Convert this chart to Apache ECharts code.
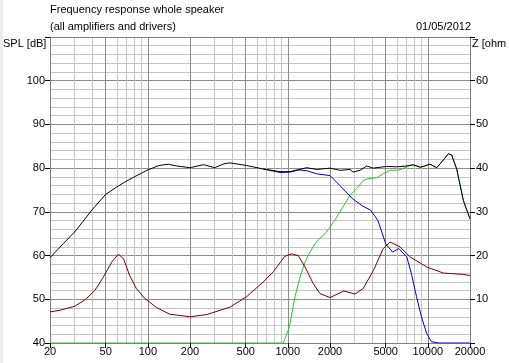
<!DOCTYPE html>
<html>
<head>
<meta charset="utf-8">
<script src="https://cdn.jsdelivr.net/npm/echarts@6/dist/echarts.min.js"></script>
<style>html,body{margin:0;padding:0;background:#fff}#c{width:509px;height:363px}</style>
</head>
<body>
<div id="c"></div>
<script>
// ---- Data ----
const xMajorTicks = [20, 50, 100, 200, 500, 1000, 2000, 5000, 10000, 20000];
const xMinorGrid = [30, 40, 60, 70, 80, 90, 300, 400, 600, 700, 800, 900, 3000, 4000, 6000, 7000, 8000, 9000];

// Total SPL (black), dB
const totalFreq = [20, 25, 30, 36, 40, 50, 60, 70, 80, 100, 120, 140, 160, 200, 250, 300, 350, 386, 508, 668, 879, 1036, 1364, 1607, 2000, 2357, 2779, 2919, 3276, 3658, 4057, 5082, 5988, 7064, 7874, 8790, 10357, 11563, 12560, 13996, 14792, 16075, 17924, 20000];
const totalSPL  = [59.5, 62.8, 65.4, 68.6, 70.5, 74.0, 75.7, 77.0, 78.0, 79.6, 80.6, 80.9, 80.5, 80.1, 80.8, 80.1, 81.0, 81.2, 80.6, 79.8, 79.2, 79.2, 80.1, 79.7, 80.0, 79.5, 79.7, 79.1, 79.5, 80.5, 80.0, 80.4, 80.3, 80.5, 80.8, 80.2, 80.9, 80.1, 81.4, 83.3, 83.0, 79.8, 72.6, 68.4];

// Woofer SPL (blue), dB — hidden under the total curve below ~700 Hz
const wooferFreq = [668, 879, 1036, 1200, 1364, 1607, 2000, 2357, 2900, 3430, 3900, 4400, 5000, 5600, 6200, 7070, 7620, 8300, 9000, 9800, 10600, 12000, 20000];
const wooferSPL  = [79.8, 79.0, 79.1, 79.6, 79.4, 78.7, 78.3, 76.0, 73.0, 71.3, 70.4, 68.0, 62.7, 60.8, 61.6, 59.7, 55.9, 50.6, 46.0, 42.2, 40.3, 40.0, 40.0];

// Tweeter SPL (green), dB
const tweeterFreq = [20, 928, 1007, 1036, 1125, 1221, 1326, 1439, 1563, 1697, 1842, 2000, 2233, 2559, 2779, 3104, 3458, 3756, 4312, 4804, 5366, 6325, 7456, 8320, 9038, 10357, 11563, 12560, 13996, 14792, 16075, 17924, 20000];
const tweeterSPL  = [40.0, 40.0, 43.0, 44.5, 50.6, 55.1, 58.5, 60.8, 62.7, 64.0, 65.0, 66.5, 68.8, 71.9, 73.8, 75.3, 77.2, 77.6, 77.8, 78.7, 79.5, 79.6, 80.6, 80.5, 80.2, 80.9, 80.1, 81.4, 83.3, 83.0, 79.8, 72.6, 68.4];

// Impedance (dark red), ohm
const impFreq = [20, 23.6, 30, 36, 42, 47.5, 55.2, 61.5, 67, 74, 82.6, 95, 115.6, 143, 200, 263, 386, 508, 668, 787, 950, 1058, 1187, 1326, 1517, 1697, 2000, 2510, 3020, 3458, 4100, 4804, 5366, 6325, 7456, 9800, 12900, 17900, 20000];
const impOhm  = [7.1, 7.5, 8.4, 10.0, 12.1, 14.8, 18.5, 20.3, 19.3, 15.5, 12.5, 10.2, 8.1, 6.6, 6.0, 6.5, 8.2, 10.6, 14.0, 16.3, 19.8, 20.4, 20.0, 17.4, 13.6, 11.3, 10.4, 11.9, 11.2, 12.5, 16.7, 21.6, 23.1, 22.0, 19.7, 17.4, 16.0, 15.7, 15.4];

const splTicks = [40, 110, 10];
const zTicks = [0, 70, 10];

function pairs(xs, ys) { return xs.map((x, i) => [x, ys[i]]); }

const FONT = 'Liberation Sans';
const chart = echarts.init(document.getElementById('c'), null, {renderer: 'canvas'});
chart.setOption({
  animation: false,
  backgroundColor: '#ffffff',
  textStyle: {fontFamily: FONT},
  grid: {left: 50, right: 39, top: 37, bottom: 20, containLabel: false},
  graphic: [
    {type: 'rect', left: 0, top: 0, shape: {width: 3, height: 363}, style: {fill: '#ececec'}, silent: true},
    {type: 'text', left: 50, top: 4, style: {text: 'Frequency response whole speaker', font: '11px "Liberation Sans"', fill: '#000'}},
    {type: 'text', left: 50, top: 21, style: {text: '(all amplifiers and drivers)', font: '11px "Liberation Sans"', fill: '#000'}},
    {type: 'text', right: 38, top: 21, style: {text: '01/05/2012', font: '11px "Liberation Sans"', fill: '#000'}},
    {type: 'text', left: 3, top: 38, style: {text: 'SPL [dB]', font: '11px "Liberation Sans"', fill: '#000'}},
    {type: 'text', left: 472, top: 38, style: {text: 'Z [ohm', font: '11px "Liberation Sans"', fill: '#000'}}
  ],
  xAxis: [
    {
      type: 'log', logBase: 10, min: 20, max: 20000, position: 'bottom',
      axisLine: {show: true, lineStyle: {color: '#808080', width: 1}},
      axisTick: {show: true, length: 5, customValues: xMajorTicks, lineStyle: {color: '#000'}},
      axisLabel: {show: true, customValues: xMajorTicks, color: '#000', fontSize: 11, fontFamily: FONT, margin: 3,
                  formatter: v => String(Math.round(v))},
      splitLine: {show: true, lineStyle: {color: '#8c8c8c', width: 1}}
    },
    {
      type: 'log', logBase: 10, min: 20, max: 20000, position: 'top',
      axisLine: {show: true, lineStyle: {color: '#808080', width: 1}},
      axisTick: {show: false, customValues: xMinorGrid},
      axisLabel: {show: false},
      splitLine: {show: true, lineStyle: {color: '#c4c4c4', width: 1}}
    }
  ],
  yAxis: [
    {
      type: 'value', min: splTicks[0], max: splTicks[1], interval: splTicks[2], position: 'left',
      axisLine: {show: true, lineStyle: {color: '#808080'}},
      axisTick: {show: true, length: 5, lineStyle: {color: '#000'}},
      axisLabel: {color: '#000', fontSize: 11, fontFamily: FONT, margin: 5,
                  formatter: v => (v === splTicks[1] ? '' : String(v))},
      splitLine: {show: true, lineStyle: {color: '#8c8c8c'}},
      minorTick: {show: false, splitNumber: 5},
      minorSplitLine: {show: true, lineStyle: {color: '#c4c4c4'}}
    },
    {
      type: 'value', min: zTicks[0], max: zTicks[1], interval: zTicks[2], position: 'right',
      axisLine: {show: true, lineStyle: {color: '#808080'}},
      axisTick: {show: true, length: 5, lineStyle: {color: '#000'}},
      axisLabel: {color: '#000', fontSize: 11, fontFamily: FONT, margin: 6,
                  formatter: v => (v === zTicks[0] || v === zTicks[1] ? '' : String(v))},
      splitLine: {show: false}
    }
  ],
  series: [
    {name: 'Tweeter', type: 'line', xAxisIndex: 0, yAxisIndex: 0, data: pairs(tweeterFreq, tweeterSPL),
     showSymbol: false, symbol: 'none', lineStyle: {color: '#2ec02e', width: 1}, z: 2},
    {name: 'Woofer', type: 'line', xAxisIndex: 0, yAxisIndex: 0, data: pairs(wooferFreq, wooferSPL),
     showSymbol: false, symbol: 'none', lineStyle: {color: '#0000c8', width: 1}, z: 3},
    {name: 'Impedance', type: 'line', xAxisIndex: 0, yAxisIndex: 1, data: pairs(impFreq, impOhm),
     showSymbol: false, symbol: 'none', lineStyle: {color: '#7a0000', width: 1}, z: 4},
    {name: 'Total', type: 'line', xAxisIndex: 0, yAxisIndex: 0, data: pairs(totalFreq, totalSPL),
     showSymbol: false, symbol: 'none', lineStyle: {color: '#000000', width: 1}, z: 5}
  ]
});
</script>
</body>
</html>
